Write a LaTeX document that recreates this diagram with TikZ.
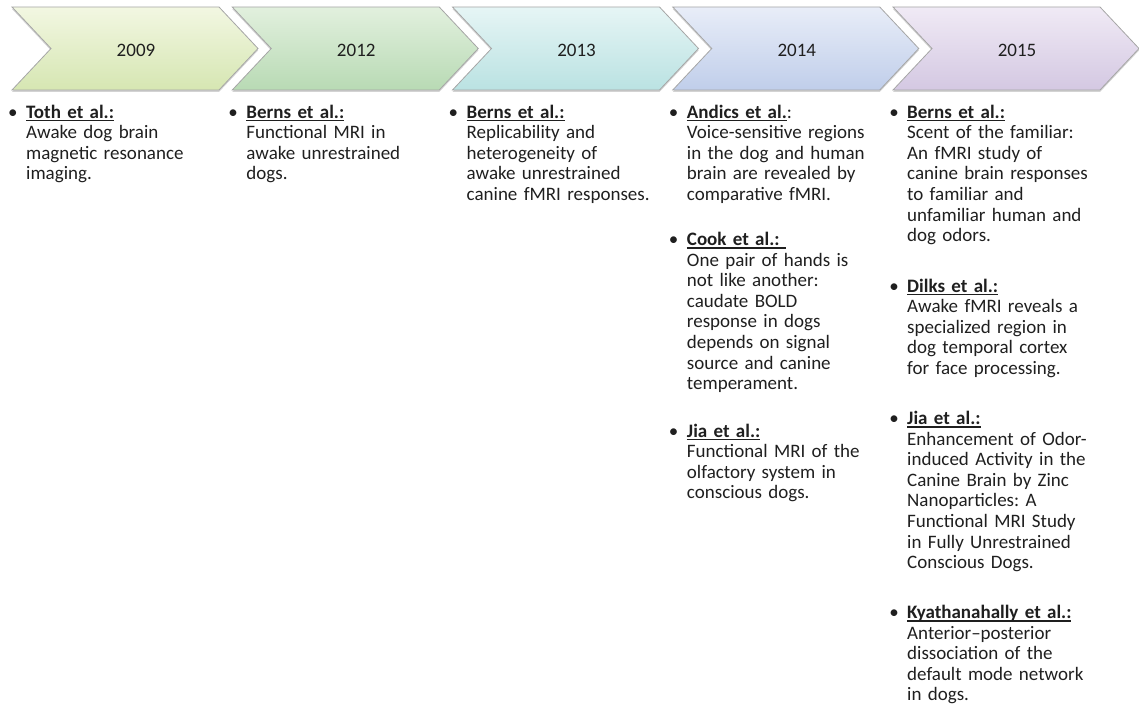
\documentclass[tikz,border=0pt]{standalone}
\usepackage{fontspec}
\setmainfont{Carlito}
\usetikzlibrary{shadows}
\frenchspacing

\newsavebox{\pubbox}
\newcommand{\pubhead}[1]{\sbox{\pubbox}{\textbf{#1}}%
  \rlap{\rule[-3pt]{\wd\pubbox}{1.2pt}}\usebox{\pubbox}}
\newcommand{\bul}{\leavevmode\llap{\textbullet\hspace{8.5pt}}}

\definecolor{limeT}{RGB}{242,247,226}
\definecolor{limeB}{RGB}{214,230,178}
\definecolor{greenT}{RGB}{226,240,222}
\definecolor{greenB}{RGB}{184,218,180}
\definecolor{cyanT}{RGB}{230,245,245}
\definecolor{cyanB}{RGB}{186,226,226}
\definecolor{blueT}{RGB}{232,237,248}
\definecolor{blueB}{RGB}{192,206,234}
\definecolor{lilacT}{RGB}{240,234,245}
\definecolor{lilacB}{RGB}{212,200,226}

\tikzset{
  chevron/.style={draw=black!35, line width=0.8pt,
    drop shadow={opacity=0.35, shadow xshift=0pt, shadow yshift=-2pt}},
  year/.style={font=\fontsize{19}{21}\selectfont, text=black!88},
  entry/.style={anchor=base west, inner sep=0pt, align=left, text width=212pt,
    font=\fontsize{19}{20.6}\selectfont\frenchspacing, text=black!88}
}

\begin{document}
\begin{tikzpicture}[x=1pt, y=-1pt]
\useasboundingbox (0,0) rectangle (1139,706);

% time line arrows
\foreach \yr/\i/\tc/\bc in {2009/0/limeT/limeB, 2012/1/greenT/greenB,
    2013/2/cyanT/cyanB, 2014/3/blueT/blueB, 2015/4/lilacT/lilacB}{
  \pgfmathsetmacro{\L}{12+220.25*\i}
  \path[chevron, top color=\tc, bottom color=\bc]
    (\L,7) -- ++(207,0) -- ++(39,41.5) -- ++(-39,41.5) -- ++(-207,0)
    -- ++(39,-41.5) -- cycle;
  \node[year] (y\yr) at (\L+124,50.5) {\yr};
}

% 2009
\node[entry] (toth) at (26,118) {\bul\pubhead{Toth et al.:}\\
  Awake dog brain\\ magnetic resonance\\ imaging.};

% 2012
\node[entry] (berns12) at (246.25,118) {\bul\pubhead{Berns et al.:}\\
  Functional MRI in\\ awake unrestrained\\ dogs.};

% 2013
\node[entry] (berns13) at (466.5,118) {\bul\pubhead{Berns et al.:}\\
  Replicability and\\ heterogeneity of\\ awake unrestrained\\
  canine fMRI responses.};

% 2014
\node[entry] (andics) at (686.75,118) {\bul\pubhead{Andics et al.}:\\
  Voice-sensitive regions\\ in the dog and human\\ brain are revealed by\\
  comparative fMRI.};
\node[entry] (cook) at (686.75,245.5) {\bul\pubhead{Cook et al.:\ }\\
  One pair of hands is\\ not like another:\\ caudate BOLD\\ response in dogs\\
  depends on signal\\ source and canine\\ temperament.};
\node[entry] (jia14) at (686.75,437) {\bul\pubhead{Jia et al.:}\\
  Functional MRI of the\\ olfactory system in\\ conscious dogs.};

% 2015
\node[entry] (berns15) at (907,118) {\bul\pubhead{Berns et al.:}\\
  Scent of the familiar:\\ An fMRI study of\\ canine brain responses\\
  to familiar and\\ unfamiliar human and\\ dog odors.};
\node[entry] (dilks) at (907,292) {\bul\pubhead{Dilks et al.:}\\
  Awake fMRI reveals a\\ specialized region in\\ dog temporal cortex\\
  for face processing.};
\node[entry] (jia15) at (907,424.5) {\bul\pubhead{Jia et al.:}\\
  Enhancement of Odor-\\ induced Activity in the\\ Canine Brain by Zinc\\
  Nanoparticles: A\\ Functional MRI Study\\ in Fully Unrestrained\\
  Conscious Dogs.};
\node[entry] (kyath) at (907,618.5) {\bul\pubhead{Kyathanahally et al.:}\\
  Anterior--posterior\\ dissociation of the\\ default mode network\\
  in dogs.};

\end{tikzpicture}
\end{document}
